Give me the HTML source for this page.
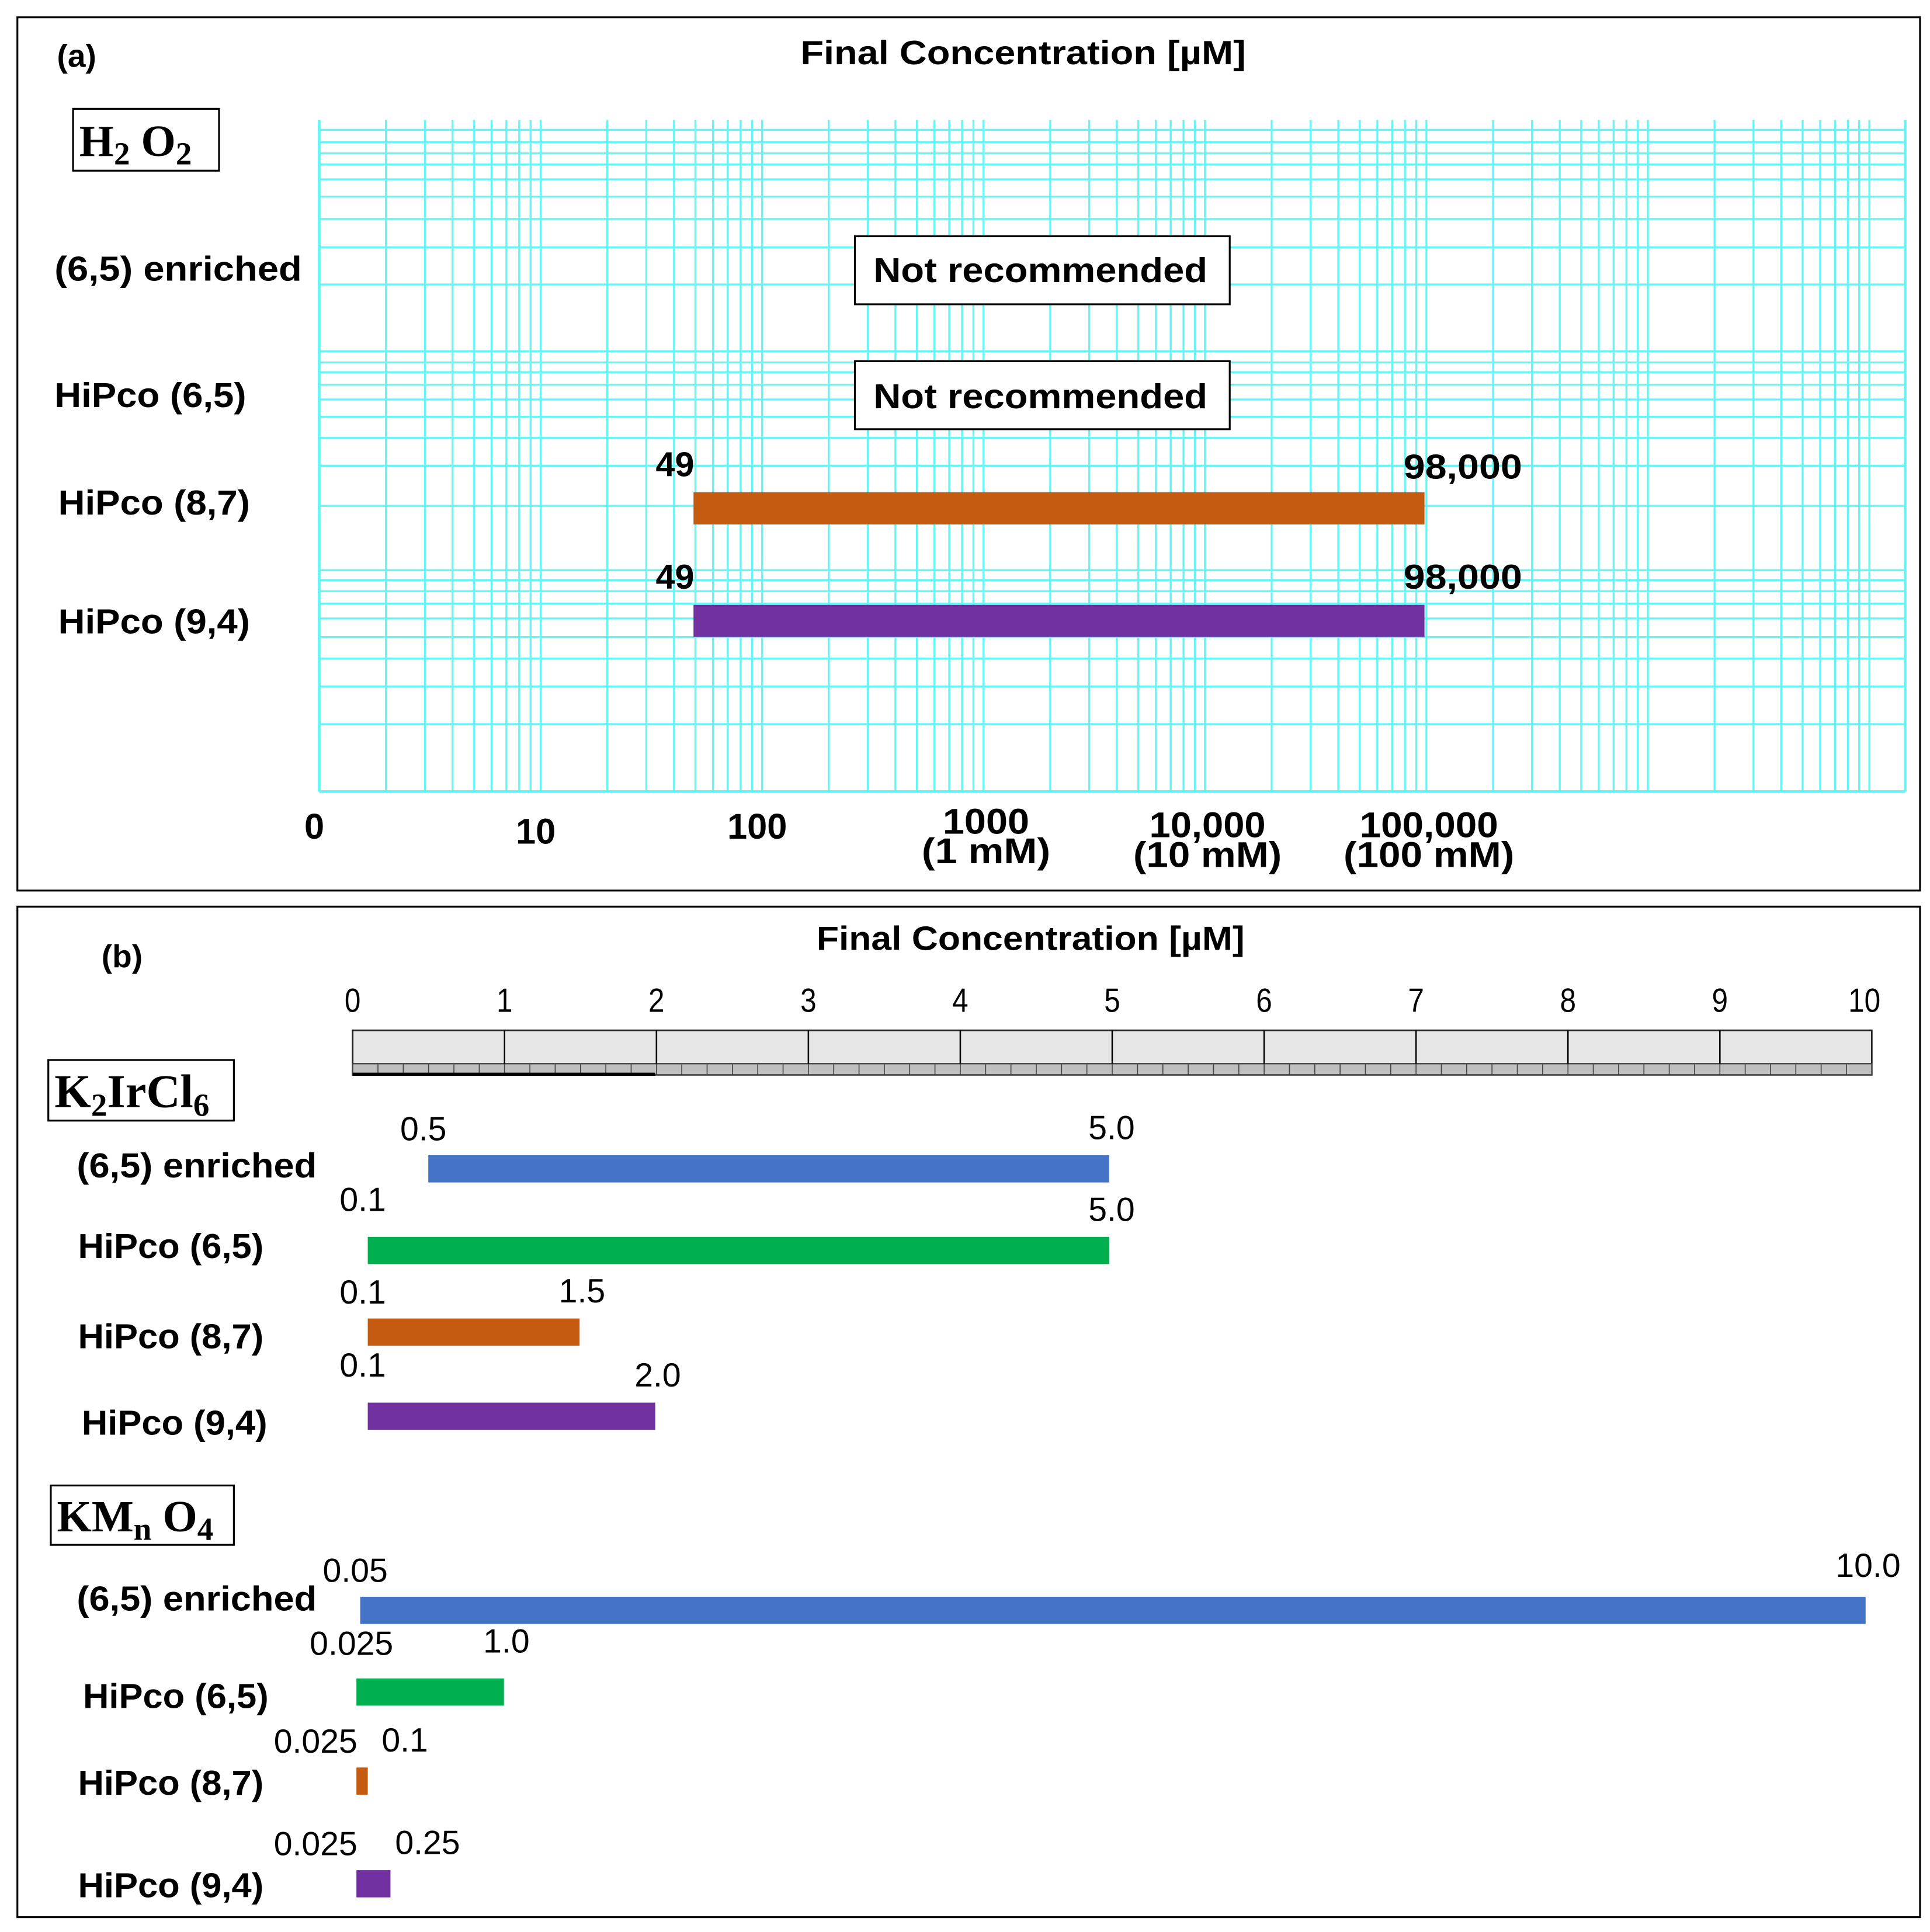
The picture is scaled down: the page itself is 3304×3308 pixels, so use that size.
<!DOCTYPE html>
<html><head><meta charset="utf-8"><style>
html,body{margin:0;padding:0;background:#fff}
svg{display:block}
text{font-family:"Liberation Sans",sans-serif;fill:#000}
.b{font-weight:bold}
.s{font-family:"Liberation Serif",serif;font-weight:bold}
</style></head><body>
<svg id="fig" width="3304" height="3308" viewBox="0 0 1560 1562" xmlns="http://www.w3.org/2000/svg">
<rect x="14" y="14" width="1538" height="706" fill="#fff" stroke="#000" stroke-width="1.5"/>
<rect x="14" y="733" width="1538" height="817" fill="#fff" stroke="#000" stroke-width="1.5"/>
<g id="gridA"></g>
<g id="marksA"></g>
<text class="b" x="46" y="54" font-size="26">(a)</text>
<text class="b" x="827" y="52" font-size="27" text-anchor="middle" textLength="360" lengthAdjust="spacingAndGlyphs">Final Concentration [µM]</text>
<rect x="59" y="88" width="118" height="50" fill="#fff" stroke="#000" stroke-width="1.5"/>
<text class="s" x="64" y="126" font-size="36">H<tspan font-size="26" dy="7">2</tspan><tspan dy="-7"> O</tspan><tspan font-size="26" dy="7">2</tspan></text>
<g id="rowsA"></g>
<g id="ticksA"></g>
<rect x="691" y="191" width="303" height="55" fill="#fff" stroke="#000" stroke-width="1.5"/>
<text class="b" x="841" y="228" font-size="28" text-anchor="middle" textLength="270" lengthAdjust="spacingAndGlyphs">Not recommended</text>
<rect x="691" y="292" width="303" height="55" fill="#fff" stroke="#000" stroke-width="1.5"/>
<text class="b" x="841" y="330" font-size="28" text-anchor="middle" textLength="270" lengthAdjust="spacingAndGlyphs">Not recommended</text>

<text class="b" x="82" y="782" font-size="26">(b)</text>
<text class="b" x="833" y="768" font-size="27" text-anchor="middle" textLength="346" lengthAdjust="spacingAndGlyphs">Final Concentration [µM]</text>
<g id="rulerB"></g>
<rect x="39" y="857" width="150" height="49" fill="#fff" stroke="#000" stroke-width="1.5"/>
<text class="s" x="44" y="895" font-size="38">K<tspan font-size="26" dy="7">2</tspan><tspan dy="-7">IrCl</tspan><tspan font-size="26" dy="7">6</tspan></text>
<rect x="41" y="1201" width="148" height="48" fill="#fff" stroke="#000" stroke-width="1.5"/>
<text class="s" x="46" y="1238" font-size="36">KM<tspan font-size="26" dy="7">n</tspan><tspan dy="-7"> O</tspan><tspan font-size="26" dy="7">4</tspan></text>
<g id="marksB"></g>
</svg>
<script>
// Panel (a) data (log scale, µM)
const catsA = ["(6,5) enriched","HiPco (6,5)","HiPco (8,7)","HiPco (9,4)"];
const lowA = [null,null,49,49];
const highA = [null,null,98000,98000];
const lowLabelA = ["","","49","49"];
const highLabelA = ["","","98,000","98,000"];
const colorsA = ["#4472C4","#00B050","#C55A11","#7030A0"];
const tickValsA = [1,10,100,1000,10000,100000];
const tickLabelsA = [["0"],["10"],["100"],["1000","(1 mM)"],["10,000","(10 mM)"],["100,000","(100 mM)"]];
// Panel (b) data (linear, µM)
const catsB = ["(6,5) enriched","HiPco (6,5)","HiPco (8,7)","HiPco (9,4)","(6,5) enriched","HiPco (6,5)","HiPco (8,7)","HiPco (9,4)"];
const lowB = [0.5,0.1,0.1,0.1,0.05,0.025,0.025,0.025];
const highB = [5.0,5.0,1.5,2.0,10.0,1.0,0.1,0.25];
const lowLabelB = ["0.5","0.1","0.1","0.1","0.05","0.025","0.025","0.025"];
const highLabelB = ["5.0","5.0","1.5","2.0","10.0","1.0","0.1","0.25"];
const colorsB = ["#4472C4","#00B050","#C55A11","#7030A0","#4472C4","#00B050","#C55A11","#7030A0"];
const tickValsB = [0,1,2,3,4,5,6,7,8,9,10];

const NS="http://www.w3.org/2000/svg";
function mk(tag, attrs, parent){const e=document.createElementNS(NS,tag);for(const k in attrs)e.setAttribute(k,attrs[k]);parent.appendChild(e);return e;}

const A_L=258,A_R=1540,A_T=97,A_B=640,A_DEC=179;
const xA = v => A_L + A_DEC*Math.log10(v);
const rowYA = [217,319,411,502];
const B_0=285,B_U=122.3;
const xB = v => B_0 + B_U*v;
const rowYB = [945,1011,1077,1145,1302,1368,1440,1523];
const rowLabYB = [952,1017,1090,1160,1302,1381,1451,1534];
const rowLabXB = [62,63,63,66,62,67,63,63];

const gA=document.getElementById('gridA');
const hz=[105,115,124,133,145,159,177,200,230,284,293,301,311,323,337,354,376.5,409,461,469,478,488,500,515,532.5,555,585.5];
hz.forEach(y=>{const l=mk('line',{x1:A_L,x2:A_R,y1:y,y2:y,stroke:'#66F5F5','stroke-width':1.6},gA);

});
for(let d=0;d<8;d++){for(let m=1;m<=9;m++){const x=A_L+A_DEC*(d+Math.log10(m));if(x<=A_R+0.5){const l=mk('line',{x1:x,x2:x,y1:A_T,y2:A_B,stroke:'#66F5F5','stroke-width':1.6},gA);

}}}
[[A_L,A_T,A_L,A_B],[A_L,A_B,A_R,A_B],[A_R,A_T,A_R,A_B]].forEach(c=>{const l=mk('line',{x1:c[0],y1:c[1],x2:c[2],y2:c[3],stroke:'#66F5F5','stroke-width':2.2},gA);

});

const rA=document.getElementById('rowsA'), mA=document.getElementById('marksA');
const labXA=[44,44,47,47], labYA=[227,329,416,512], labWA=[200,155,155,155];
catsA.forEach((c,i)=>{const t=mk('text',{x:labXA[i],y:labYA[i],'font-size':28,'class':'b',textLength:labWA[i],lengthAdjust:'spacingAndGlyphs'},rA);t.textContent=c;


if(lowA[i]!==null){const x1=xA(lowA[i]),x2=xA(highA[i]);
const r=mk('rect',{x:x1,y:rowYA[i]-13,width:x2-x1,height:26,fill:colorsA[i]},mA);


const t1=mk('text',{x:x1-15,y:rowYA[i]-26,'font-size':28,'class':'b','text-anchor':'middle'},mA);t1.textContent=lowLabelA[i];


const t2=mk('text',{x:x2+31,y:rowYA[i]-24-(i==3?2:0),'font-size':28,'class':'b','text-anchor':'middle',textLength:96,lengthAdjust:'spacingAndGlyphs'},mA);t2.textContent=highLabelA[i];

}});

const tA=document.getElementById('ticksA');
const tickYA=[678,682,678,674,677,677];
const tickWA=[[0],[0],[0],[70,104],[94,120],[112,138]];
tickValsA.forEach((v,i)=>{const x=xA(v)-4+(i>=3?6:0);const lab=tickLabelsA[i];
lab.forEach((s,j)=>{const at={x:x,y:tickYA[i]+j*24,'font-size':29,'class':'b','text-anchor':'middle'};
if(tickWA[i][j])at.textLength=tickWA[i][j],at.lengthAdjust='spacingAndGlyphs';
const t=mk('text',at,tA);t.textContent=s;

});});

const rb=document.getElementById('rulerB');
const RL=285,RR=1513,RT=833,RM=860,RB=869;
mk('rect',{x:RL,y:RT,width:RR-RL,height:RB-RT,fill:'#E6E6E6',stroke:'#222','stroke-width':1.3},rb);
mk('rect',{x:RL,y:RM,width:RR-RL,height:RB-RM,fill:'#BFBFBF',stroke:'#333','stroke-width':1},rb);
for(let k=0;k<=60;k++){const x=RL+(RR-RL)*k/60;mk('line',{x1:x,x2:x,y1:RM,y2:RB,stroke:'#444','stroke-width':0.8},rb);}
mk('line',{x1:RL,x2:xB(2),y1:RB-0.5,y2:RB-0.5,stroke:'#000','stroke-width':2.5},rb);
tickValsB.forEach((v,i)=>{const x=RL+(RR-RL)*v/10;
if(v>0&&v<10){const l=mk('line',{x1:x,x2:x,y1:RT,y2:RM,stroke:'#000','stroke-width':1.2},rb);

}
const t=mk('text',{x:x-(v==10?6:0),y:818,'font-size':27,'text-anchor':'middle',textLength:v==10?26:13,lengthAdjust:'spacingAndGlyphs'},rb);t.textContent=String(v);

});

const mB=document.getElementById('marksB');
const labWB=[194,150,150,150,194,150,150,150];
catsB.forEach((c,i)=>{const t=mk('text',{x:rowLabXB[i],y:rowLabYB[i],'font-size':28,'class':'b',textLength:labWB[i],lengthAdjust:'spacingAndGlyphs'},mB);t.textContent=c;


const x1=xB(lowB[i]),x2=xB(highB[i]);
const r=mk('rect',{x:x1,y:rowYB[i]-11,width:x2-x1,height:22,fill:colorsB[i]},mB);


const lx = i>=6 ? x1-33 : x1-4;
const t1=mk('text',{x:lx,y:rowYB[i]-23-(i==1||i==3?9:0)-(i==5?7:0),'font-size':27,'text-anchor':'middle'},mB);t1.textContent=lowLabelB[i];


const hx = i>=6 ? x2+30 : x2+2;
const t2=mk('text',{x:hx,y:rowYB[i]-24-(i==4?3:0)-(i==5?8:0),'font-size':27,'text-anchor':'middle'},mB);t2.textContent=highLabelB[i];

});
</script>
</body></html>
